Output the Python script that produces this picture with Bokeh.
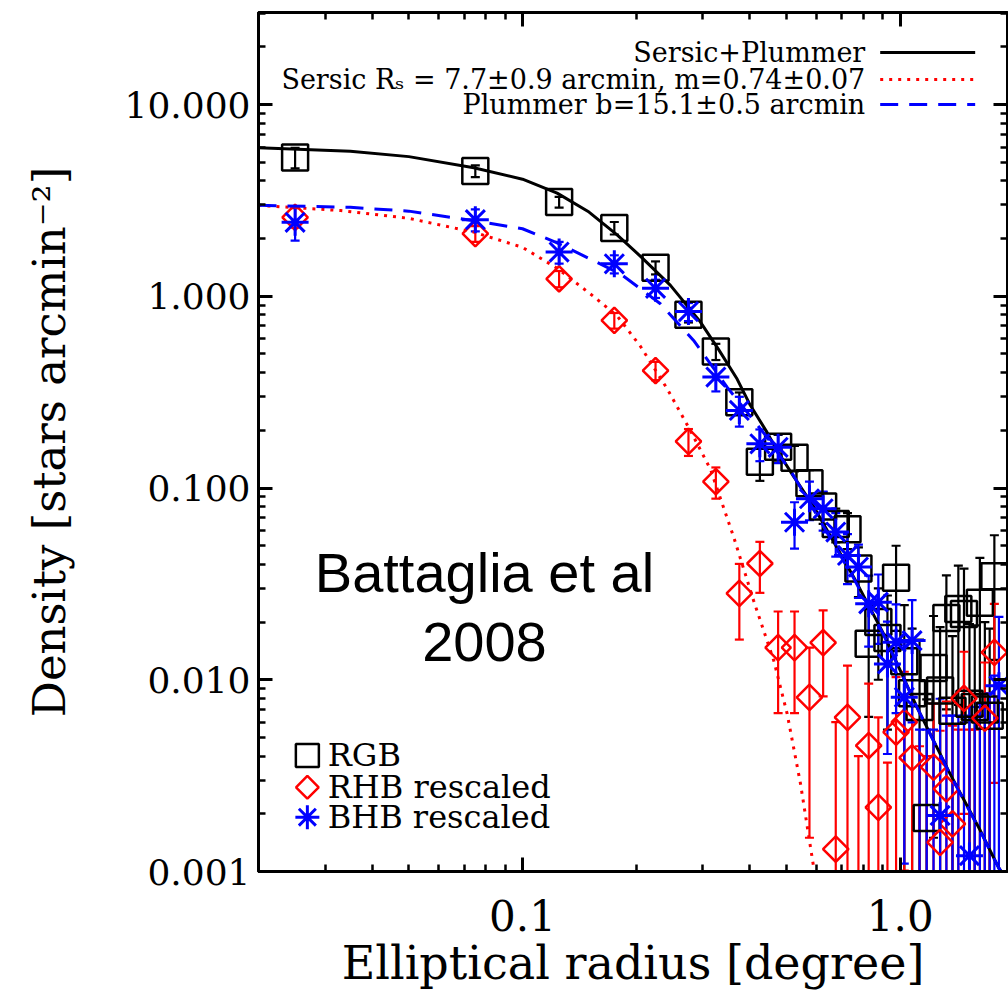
import numpy as np
from bokeh.plotting import figure
from bokeh.models import (Range1d, LogAxis, FixedTicker, PrintfTickFormatter,
                          CustomJSTickFormatter, ColumnDataSource, Whisker,
                          TeeHead, Label)
from bokeh.embed import file_html
from bokeh.resources import INLINE

# ---------------- data ----------------
x_bins = [0.025, 0.075, 0.125, 0.175, 0.225, 0.275, 0.325, 0.375, 0.425, 0.475,
          0.525, 0.575, 0.625, 0.675, 0.725, 0.775, 0.825, 0.875, 0.925, 0.975,
          1.025, 1.075, 1.125, 1.175, 1.225, 1.275, 1.325, 1.375, 1.425, 1.475,
          1.525, 1.575, 1.625, 1.675, 1.725, 1.775]

rgb_y = [5.3, 4.5, 3.1, 2.27, 1.41, 0.80, 0.515, 0.28, 0.137, 0.164,
         0.144, 0.106, 0.080, 0.065, 0.061, 0.038, 0.0154, 0.020, 0.0165, 0.034,
         0.0125, 0.0085, 0.0072, 0.0019, 0.0115, 0.0088, 0.021, 0.0069, 0.0234, 0.022,
         0.0075, 0.0072, 0.0252, 0.0070, 0.0065, 0.0347]
rgb_e = [0.65, 0.32, 0.2, 0.17, 0.11, 0.07, 0.05, 0.035, 0.028, 0.025,
         0.022, 0.018, 0.015, 0.013, 0.013, 0.011, 0.009, 0.010, 0.011, 0.016,
         0.012, 0.010, 0.009, 0.006, 0.010, 0.010, 0.014, 0.010, 0.016, 0.016,
         0.012, 0.012, 0.018, 0.013, 0.012, 0.022]

rhb_y = [2.58, 2.12, 1.234, 0.748, 0.41, 0.175, 0.108, 0.0282, 0.0404, 0.0147,
         0.0147, 0.0081, 0.0156, 0.00131, 0.00636, 0.0005, 0.00454, 0.00216, 0.0005, 0.00533,
         0.00601, 0.00392, 0.0005, 0.0005, 0.0035, 0.00142, 0.0027, 0.00177, 0.0005, 0.0080,
         0.0005, 0.0005, 0.0005, 0.0063, 0.0005, 0.0139]
rhb_e = [0.3, 0.2, 0.12, 0.07, 0.045, 0.028, 0.02, 0.012, 0.012, 0.008,
         0.008, 0.0066, 0.0074, 0.0047, 0.0055, 0.0035, 0.005, 0.0042, 0.0032, 0.005,
         0.005, 0.0045, 0.004, 0.0035, 0.004, 0.004, 0.005, 0.004, 0.005, 0.006,
         0.005, 0.005, 0.006, 0.006, 0.008, 0.011]

bhb_x = x_bins + [1.825]
bhb_y = [2.43, 2.51, 1.70, 1.476, 1.10, 0.832, 0.379, 0.254, 0.170, 0.163,
         0.0663, 0.0879, 0.0779, 0.0589, 0.0445, 0.0387, 0.0249, 0.0254, 0.0121, 0.0157,
         0.0081, 0.016, 0.0005, 0.0005, 0.0005, 0.00196, 0.0005, 0.0005, 0.0005, 0.0005,
         0.00121, 0.0005, 0.0005, 0.0005, 0.0005, 0.0005, 0.0093]
bhb_e = [0.48, 0.33, 0.22, 0.16, 0.12, 0.09, 0.06, 0.045, 0.032, 0.028,
         0.018, 0.02, 0.018, 0.015, 0.013, 0.012, 0.010, 0.010, 0.008, 0.009,
         0.007, 0.010, 0.005, 0.005, 0.005, 0.006, 0.006, 0.006, 0.006, 0.006,
         0.006, 0.006, 0.007, 0.007, 0.008, 0.010, 0.012]

# model curves
sp_x = [0.02, 0.035, 0.05, 0.0743, 0.1, 0.1235, 0.15, 0.178, 0.205, 0.2464, 0.295, 0.33, 0.37,
        0.401, 0.444, 0.472, 0.522, 0.59, 0.752, 0.903, 1.107, 1.355, 1.628, 1.82, 1.93]
sp_y = [5.95, 5.7, 5.35, 4.68, 4.08, 3.45, 2.75, 2.09, 1.62, 1.14, 0.74, 0.53, 0.37,
        0.27, 0.195, 0.157, 0.115, 0.080, 0.0345, 0.0174, 0.0072, 0.00323, 0.00164, 0.00105, 0.00088]

ser_x = [0.02, 0.033, 0.05, 0.0743, 0.1, 0.1235, 0.154, 0.178, 0.205, 0.2414, 0.278,
         0.3146, 0.3624, 0.409, 0.4625, 0.502, 0.5446, 0.590, 0.62]
ser_y = [2.98, 2.80, 2.55, 2.16, 1.80, 1.40, 1.0, 0.79, 0.55, 0.33, 0.20,
         0.125, 0.0554, 0.0259, 0.0126, 0.00664, 0.00286, 0.00105, 0.0005]

plu_x = [0.02, 0.035, 0.05, 0.0743, 0.1, 0.1235, 0.1816, 0.2317, 0.2838, 0.348, 0.444, 0.522,
         0.59, 0.752, 0.903, 1.107, 1.355, 1.628, 1.82, 1.93]
plu_y = [2.98, 2.91, 2.78, 2.48, 2.25, 1.90, 1.31, 0.914, 0.588, 0.336, 0.184, 0.116,
         0.077, 0.034, 0.0172, 0.0072, 0.0032, 0.00163, 0.00105, 0.00088]

y_major = [0.001, 0.01, 0.1, 1.0, 10.0]
y_minor = [m * 10.0 ** k for k in range(-3, 2) for m in range(2, 10)]
x_major = [0.1, 1.0]
x_minor = [m * 10.0 ** k for k in range(-2, 1) for m in range(2, 10)] + [2.0]

x_title = "Elliptical radius [degree]"
y_title = "Density [stars arcmin\u207b\u00b2]"
legend_top = ["Sersic+Plummer", "Sersic R\u209b = 7.7\u00b10.9 arcmin, m=0.74\u00b10.07",
              "Plummer b=15.1\u00b10.5 arcmin"]
legend_bot = ["RGB", "RHB rescaled", "BHB rescaled"]
note = ["Battaglia et al", "2008"]

# ---------------- figure ----------------
YMIN, YMAX = 0.001, 30.2
XMIN, XMAX = 0.02, 1.923
SERIF = "DejaVu Serif"
RED, BLUE = "#ff0000", "#0000ff"

p = figure(width=1008, height=996, x_axis_type="log", y_axis_type="log",
           x_range=Range1d(XMIN, XMAX), y_range=Range1d(YMIN, YMAX),
           output_backend="svg", toolbar_location=None,
           min_border_left=258, min_border_right=1, min_border_top=12,
           min_border_bottom=125)
p.xgrid.visible = False
p.ygrid.visible = False
p.outline_line_color = "black"
p.outline_line_width = 3
p.background_fill_color = "white"
p.border_fill_color = "white"


def style_axis(ax, ticks, minor, fmt, font_size):
    ax.ticker = FixedTicker(ticks=ticks, minor_ticks=minor)
    ax.axis_line_width = 3
    ax.axis_line_color = "black"
    ax.major_tick_in = 14
    ax.major_tick_out = 0
    ax.minor_tick_in = 7
    ax.minor_tick_out = 0
    ax.major_tick_line_width = 3
    ax.minor_tick_line_width = 2.5
    ax.major_tick_line_color = "black"
    ax.minor_tick_line_color = "black"
    ax.major_label_text_font = SERIF
    ax.major_label_text_color = "black"
    if fmt is None:
        ax.formatter = CustomJSTickFormatter(code="return ''")
        ax.major_label_standoff = 0
    else:
        ax.formatter = PrintfTickFormatter(format=fmt)
        ax.major_label_text_font_size = font_size


xb = p.below[0]
style_axis(xb, x_major, x_minor, "%.1f", "42px")
xb.major_label_standoff = 28
xb.axis_label = x_title
xb.axis_label_text_font = SERIF
xb.axis_label_text_font_size = "46px"
xb.axis_label_text_font_style = "normal"
xb.axis_label_text_color = "black"
xb.axis_label_standoff = 2

yl = p.left[0]
style_axis(yl, y_major, y_minor, "%.3f", "36px")
yl.major_label_standoff = 8
yl.axis_label = y_title
yl.axis_label_text_font = SERIF
yl.axis_label_text_font_size = "45px"
yl.axis_label_text_font_style = "normal"
yl.axis_label_text_color = "black"
yl.axis_label_standoff = 46

xt = LogAxis()
style_axis(xt, x_major, x_minor, None, None)
p.add_layout(xt, "above")
yr = LogAxis()
style_axis(yr, y_major, y_minor, None, None)
p.add_layout(yr, "right")


def err_source(x, y, e):
    y = np.array(y, dtype=float)
    e = np.array(e, dtype=float)
    lo = np.clip(y - e, YMIN, None)
    hi = np.clip(y + e, YMIN, YMAX)
    return ColumnDataSource(dict(x=list(x), y=list(y), lo=list(lo), hi=list(hi)))


def add_err(src, color, lw=2.2):
    w = Whisker(source=src, base="x", upper="hi", lower="lo", dimension="height",
                line_color=color, line_width=lw,
                upper_head=TeeHead(size=9, line_color=color, line_width=lw),
                lower_head=TeeHead(size=9, line_color=color, line_width=lw))
    p.add_layout(w)


rgb_src = err_source(x_bins, rgb_y, rgb_e)
rhb_src = err_source(x_bins, rhb_y, rhb_e)
bhb_src = err_source(bhb_x, bhb_y, bhb_e)

add_err(rgb_src, "black")
add_err(rhb_src, RED)
add_err(bhb_src, BLUE)

p.scatter("x", "y", source=rgb_src, marker="square", size=26, fill_color=None,
          line_color="black", line_width=2.5)
p.line(sp_x, sp_y, line_color="black", line_width=3)

p.scatter("x", "y", source=rhb_src, marker="square", angle=np.pi / 4, size=18,
          fill_color=None, line_color=RED, line_width=2.5)
p.line(ser_x, ser_y, line_color=RED, line_width=3, line_dash="3 6")

p.scatter("x", "y", source=bhb_src, marker="asterisk", size=27,
          line_color=BLUE, line_width=3)
p.line(plu_x, plu_y, line_color=BLUE, line_width=3, line_dash="18 11")

# ---------------- top-right legend ----------------
leg_rows_y = [18.67, 13.5, 10.0]
leg_text_x = 0.808
leg_line_x = [0.885, 1.579]
leg_styles = [dict(line_color="black"), dict(line_color=RED, line_dash="3 6"),
              dict(line_color=BLUE, line_dash="18 11")]
for txt, yy, st in zip(legend_top, leg_rows_y, leg_styles):
    p.add_layout(Label(x=leg_text_x, y=yy, text=txt, text_align="right",
                       text_baseline="middle", text_font=SERIF,
                       text_font_size="27px", text_color="black"))
    p.line(leg_line_x, [yy, yy], line_width=3, **st)

# ---------------- bottom-left legend ----------------
bl_y = [0.00403, 0.00275, 0.00192]
bl_mx = 0.02694
bl_tx = 0.0305
p.scatter([bl_mx], [bl_y[0]], marker="square", size=23, fill_color=None,
          line_color="black", line_width=2.5)
p.scatter([bl_mx], [bl_y[1]], marker="square", angle=np.pi / 4, size=16,
          fill_color=None, line_color=RED, line_width=2.5)
p.scatter([bl_mx], [bl_y[2]], marker="asterisk", size=24, line_color=BLUE,
          line_width=3)
for txt, yy in zip(legend_bot, bl_y):
    p.add_layout(Label(x=bl_tx, y=yy, text=txt, text_align="left",
                       text_baseline="middle", text_font=SERIF,
                       text_font_size="32px", text_color="black"))

# ---------------- annotation ----------------
for txt, yy in zip(note, [0.0362, 0.0158]):
    p.add_layout(Label(x=0.0793, y=yy, text=txt, text_align="center",
                       text_baseline="middle", text_font="Liberation Sans",
                       text_font_size="56px", text_color="black"))

open("out.html", "w").write(file_html(p, INLINE))
